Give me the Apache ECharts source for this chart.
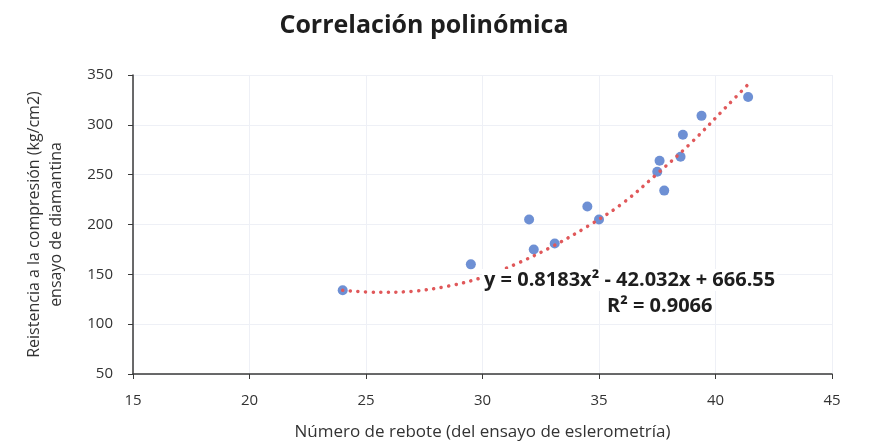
<!DOCTYPE html>
<html><head><meta charset="utf-8">
<script src="https://cdn.jsdelivr.net/npm/echarts@6/dist/echarts.min.js"></script>
<style>html,body{margin:0;padding:0;background:#fff}#c{width:869px;height:446px}</style>
</head><body><div id="c"></div>
<script>
const rebote = [24.0, 29.5, 32.0, 32.2, 33.1, 34.5, 35.0, 37.5, 37.6, 37.8, 38.5, 38.6, 39.4, 41.4];
const resistencia = [134, 160, 205, 175, 181, 218, 205, 253, 264, 234, 268, 290, 309, 328];
const trendX = [24.0, 25.5, 27.0, 28.5, 30.0, 31.5, 33.0, 34.5, 36.0, 37.5, 39.0, 40.5, 41.5];
const trendY = [134, 132, 133, 138, 147, 161, 178, 198, 221, 251, 283, 319, 343];
const xTicks = [15, 20, 25, 30, 35, 40, 45];
const yTicks = [50, 100, 150, 200, 250, 300, 350];
const title = 'Correlación polinómica';
const xName = 'Número de rebote (del ensayo de eslerometría)';
const yName = 'Reistencia a la compresión (kg/cm2)\nensayo de diamantina';
const eqText = 'y = 0.8183x² - 42.032x + 666.55';
const r2Text = 'R² = 0.9066';

const chart = echarts.init(document.getElementById('c'), null, {renderer: 'canvas'});
const font = '"Open Sans", "Liberation Sans", sans-serif';
chart.setOption({
  animation: false,
  backgroundColor: '#fff',
  title: {text: title, left: 419, top: 8, textAlign: 'center',
    textStyle: {fontFamily: font, fontSize: 25, fontWeight: 'bold', color: '#1e1e1e'}},
  grid: {left: 133, right: 37, top: 75, bottom: 66},
  xAxis: {type: 'value', min: xTicks[0], max: xTicks[xTicks.length-1], interval: 5,
    name: xName, nameLocation: 'middle', nameGap: 50,
    nameTextStyle: {fontFamily: font, fontSize: 17, color: '#333'},
    axisLine: {lineStyle: {color: '#3a3a3a', width: 1.5}},
    axisTick: {show: true, lineStyle: {color: '#3a3a3a'}},
    axisLabel: {fontFamily: font, fontSize: 15, color: '#333', margin: 19},
    splitLine: {show: true, lineStyle: {color: '#eef0f6'}}},
  yAxis: {type: 'value', min: yTicks[0], max: yTicks[yTicks.length-1], interval: 50,
    name: yName, nameLocation: 'middle', nameGap: 66, nameRotate: 90,
    nameTextStyle: {fontFamily: font, fontSize: 16, color: '#333', lineHeight: 22},
    axisLine: {show: true, lineStyle: {color: '#3a3a3a', width: 1.5}},
    axisTick: {show: true, lineStyle: {color: '#3a3a3a'}},
    axisLabel: {fontFamily: font, fontSize: 15, color: '#333', margin: 20},
    splitLine: {show: true, lineStyle: {color: '#eef0f6'}}},
  series: [
    {type: 'line', data: trendX.map((x, i) => [x, trendY[i]]), smooth: 0.35,
      showSymbol: false, z: 3,
      lineStyle: {color: '#e0585a', width: 3.5, type: [0.1, 7.5], cap: 'round'}},
    {type: 'scatter', data: rebote.map((x, i) => [x, resistencia[i]]),
      symbolSize: 10, z: 2, itemStyle: {color: '#4a74c9'}}
  ],
  graphic: [
    {type: 'text', left: 482, top: 269, z: 10, style: {text: eqText, fontFamily: font, fontSize: 20, fontWeight: 'bold', fill: '#1e1e1e', backgroundColor: '#fff', padding: [1, 2]}},
    {type: 'text', left: 607, top: 296, z: 10, style: {text: r2Text, fontFamily: font, fontSize: 20, fontWeight: 'bold', fill: '#1e1e1e'}}
  ]
});
</script></body></html>
